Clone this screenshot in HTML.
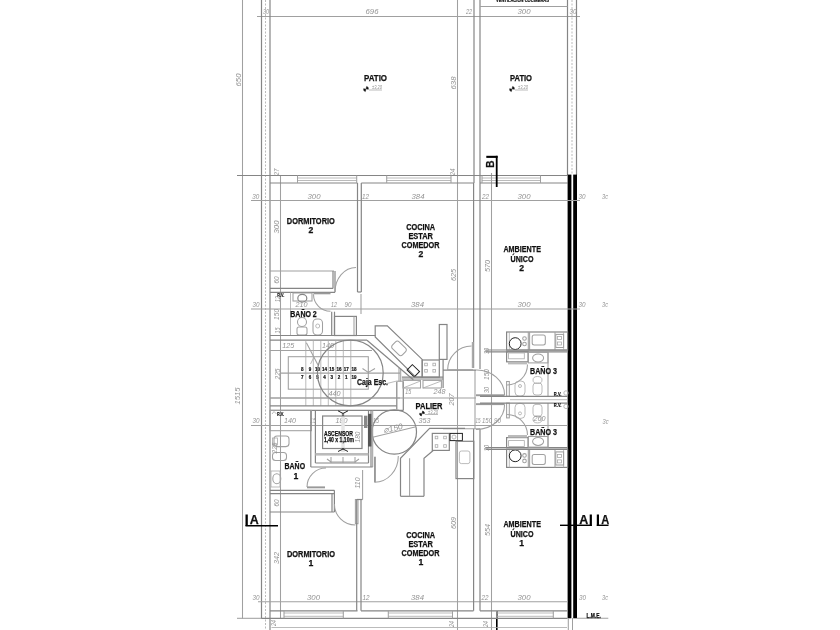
<!DOCTYPE html>
<html><head><meta charset="utf-8">
<style>
html,body{margin:0;padding:0;background:#fff;width:840px;height:630px;overflow:hidden}
svg{display:block;filter:blur(0.35px)}
.l{stroke:#858585;stroke-width:1.2;fill:none}
.lt{stroke:#a0a0a0;stroke-width:1.05;fill:none}
.lf{stroke:#aaa;stroke-width:0.8;fill:none}
.ds{stroke:#bbb;stroke-width:1;fill:none;stroke-dasharray:2 1.5}
.dk{stroke:#222;stroke-width:1;fill:none}
.bk{fill:#000;stroke:none}
.gr{fill:#777;stroke:#444;stroke-width:0.5}
.dt{font-family:"Liberation Sans",sans-serif;font-style:italic;font-size:8px;fill:#939393}
.lb{font-family:"Liberation Sans",sans-serif;font-weight:bold;font-size:8.6px;fill:#111;stroke:#111;stroke-width:0.25}
.sm{font-family:"Liberation Sans",sans-serif;font-weight:bold;font-size:5px;fill:#111;stroke:#111;stroke-width:0.2}
</style></head><body>
<svg width="840" height="630" viewBox="0 0 840 630">
<line class="lt" x1="242.5" y1="0" x2="242.5" y2="618.5"/>
<line class="lt" x1="237" y1="618.3" x2="262" y2="618.3"/>
<line class="lt" x1="257" y1="16.5" x2="580" y2="16.5"/>
<text class="dt" x="266" y="14" text-anchor="middle" textLength="6" lengthAdjust="spacingAndGlyphs">30</text>
<line class="l" x1="261.5" y1="0" x2="261.5" y2="618.3"/>
<line class="ds" x1="265.5" y1="0" x2="265.5" y2="630"/>
<line class="l" x1="270" y1="0" x2="270" y2="630"/>
<line class="lt" x1="280.5" y1="175" x2="280.5" y2="618.3"/>
<line class="lt" x1="457.5" y1="0" x2="457.5" y2="630"/>
<line class="lt" x1="491.5" y1="173" x2="491.5" y2="630"/>
<line class="l" x1="474" y1="0" x2="474" y2="183"/>
<line class="l" x1="480" y1="0" x2="480" y2="183"/>
<line class="l" x1="567.5" y1="0" x2="567.5" y2="175"/>
<line class="ds" x1="572" y1="0" x2="572" y2="175"/>
<line class="l" x1="576.5" y1="0" x2="576.5" y2="175"/>
<line class="lt" x1="480" y1="6.5" x2="567.5" y2="6.5"/>
<text class="sm" x="522.5" y="1.6" text-anchor="middle" textLength="53" lengthAdjust="spacingAndGlyphs">VENTILACION COCINERAS</text>
<line class="l" x1="237" y1="175.5" x2="567.5" y2="175.5"/>
<line class="l" x1="270" y1="183" x2="357.5" y2="183"/>
<line class="l" x1="361.3" y1="183" x2="474" y2="183"/>
<line class="l" x1="480" y1="183" x2="567.5" y2="183"/>
<line class="lf" x1="297.5" y1="178" x2="356.7" y2="178"/>
<line class="lf" x1="297.5" y1="180.5" x2="356.7" y2="180.5"/>
<line class="lt" x1="297.5" y1="175.5" x2="297.5" y2="183"/>
<line class="lt" x1="356.7" y1="175.5" x2="356.7" y2="183"/>
<line class="lf" x1="386.7" y1="178" x2="451" y2="178"/>
<line class="lf" x1="386.7" y1="180.5" x2="451" y2="180.5"/>
<line class="lt" x1="386.7" y1="175.5" x2="386.7" y2="183"/>
<line class="lt" x1="451" y1="175.5" x2="451" y2="183"/>
<line class="lf" x1="482" y1="178" x2="540.5" y2="178"/>
<line class="lf" x1="482" y1="180.5" x2="540.5" y2="180.5"/>
<line class="lt" x1="482" y1="175.5" x2="482" y2="183"/>
<line class="lt" x1="540.5" y1="175.5" x2="540.5" y2="183"/>
<text class="lb" x="375.5" y="81" text-anchor="middle" textLength="23" lengthAdjust="spacingAndGlyphs">PATIO</text>
<text class="lb" x="521" y="81" text-anchor="middle" textLength="22" lengthAdjust="spacingAndGlyphs">PATIO</text>
<text class="dt" x="372" y="14" text-anchor="middle" textLength="13" lengthAdjust="spacingAndGlyphs">696</text>
<text class="dt" x="469" y="14" text-anchor="middle" textLength="6" lengthAdjust="spacingAndGlyphs">22</text>
<text class="dt" x="524" y="14" text-anchor="middle" textLength="13" lengthAdjust="spacingAndGlyphs">300</text>
<text class="dt" x="573" y="14" text-anchor="middle" textLength="7" lengthAdjust="spacingAndGlyphs">30</text>
<text class="dt" x="240.5" y="80" text-anchor="middle" textLength="13" lengthAdjust="spacingAndGlyphs" transform="rotate(-90 240.5 80)">650</text>
<text class="dt" x="456" y="83" text-anchor="middle" textLength="13" lengthAdjust="spacingAndGlyphs" transform="rotate(-90 456 83)">638</text>
<path transform="rotate(15 366 89)" d="M366,88.7 L366,86.4 A2.3,2.3 0 0 1 368.3,88.7 Z M366,89.3 L366,91.6 A2.3,2.3 0 0 1 363.7,89.3 Z" fill="#111" stroke="#111" stroke-width="0.5"/>
<line class="lf" x1="369" y1="90" x2="382" y2="90"/>
<text class="dt" x="377" y="89" text-anchor="middle" textLength="10" lengthAdjust="spacingAndGlyphs" style="font-size:4.5px">±3,20</text>
<path transform="rotate(15 512 89)" d="M512,88.7 L512,86.4 A2.3,2.3 0 0 1 514.3,88.7 Z M512,89.3 L512,91.6 A2.3,2.3 0 0 1 509.7,89.3 Z" fill="#111" stroke="#111" stroke-width="0.5"/>
<line class="lf" x1="515" y1="90" x2="528" y2="90"/>
<text class="dt" x="523" y="89" text-anchor="middle" textLength="10" lengthAdjust="spacingAndGlyphs" style="font-size:4.5px">±3,20</text>
<path transform="rotate(15 422 413.5)" d="M422,413.2 L422,410.9 A2.3,2.3 0 0 1 424.3,413.2 Z M422,413.8 L422,416.1 A2.3,2.3 0 0 1 419.7,413.8 Z" fill="#111" stroke="#111" stroke-width="0.5"/>
<line class="lf" x1="425" y1="414.5" x2="438" y2="414.5"/>
<text class="dt" x="433" y="413.5" text-anchor="middle" textLength="10" lengthAdjust="spacingAndGlyphs" style="font-size:4.5px">±3,20</text>
<rect class="bk" x="567.6" y="174.6" width="3.8" height="443.7"/>
<rect class="bk" x="573.2" y="174.6" width="3.8" height="443.7"/>
<line class="lt" x1="568.3" y1="618" x2="568.3" y2="630"/>
<line class="lt" x1="572.5" y1="618" x2="572.5" y2="630"/>
<rect class="bk" x="486.3" y="155.8" width="11.3" height="2.1"/>
<rect class="bk" x="495.8" y="155.8" width="1.8" height="31.2"/>
<text class="lb" x="494" y="164" text-anchor="middle" transform="rotate(-90 494 164)" style="font-size:10px">B</text>
<rect class="bk" x="496" y="611" width="1.6" height="19"/>
<rect class="bk" x="245.5" y="514.5" width="2.3" height="11.5"/>
<text class="lb" x="254.3" y="523.5" text-anchor="middle" textLength="9" lengthAdjust="spacingAndGlyphs" style="font-size:12px">A</text>
<rect class="bk" x="245.5" y="525" width="32.5" height="1.5"/>
<rect class="bk" x="560" y="524.6" width="31.7" height="1.4"/>
<rect class="bk" x="589.7" y="514.5" width="2.2" height="11.5"/>
<text class="lb" x="583.8" y="523.5" text-anchor="middle" textLength="9" lengthAdjust="spacingAndGlyphs" style="font-size:12px">A</text>
<rect class="bk" x="596.8" y="514.5" width="2.2" height="11.5"/>
<rect class="bk" x="596.8" y="524.6" width="11.7" height="1.4"/>
<text class="lb" x="605.2" y="523.5" text-anchor="middle" textLength="8" lengthAdjust="spacingAndGlyphs" style="font-size:12px">A</text>
<line class="lt" x1="576.7" y1="618.3" x2="608.3" y2="618.3"/>
<text class="lb" x="593.7" y="617.5" text-anchor="middle" textLength="14.5" lengthAdjust="spacingAndGlyphs" style="font-size:6.5px">L.M.E.</text>
<line class="lt" x1="251" y1="200.5" x2="580" y2="200.5"/>
<text class="dt" x="255.7" y="199" text-anchor="middle" textLength="7" lengthAdjust="spacingAndGlyphs">30</text>
<text class="dt" x="314" y="199" text-anchor="middle" textLength="13" lengthAdjust="spacingAndGlyphs">300</text>
<text class="dt" x="365.5" y="199" text-anchor="middle" textLength="7" lengthAdjust="spacingAndGlyphs">12</text>
<text class="dt" x="418" y="199" text-anchor="middle" textLength="13" lengthAdjust="spacingAndGlyphs">384</text>
<text class="dt" x="485.5" y="199" text-anchor="middle" textLength="7" lengthAdjust="spacingAndGlyphs">22</text>
<text class="dt" x="524" y="199" text-anchor="middle" textLength="13" lengthAdjust="spacingAndGlyphs">300</text>
<text class="dt" x="582" y="199" text-anchor="middle" textLength="7" lengthAdjust="spacingAndGlyphs">30</text>
<text class="dt" x="605" y="199" text-anchor="middle" textLength="6" lengthAdjust="spacingAndGlyphs">3c</text>
<text class="dt" x="278.5" y="172" text-anchor="middle" textLength="7" lengthAdjust="spacingAndGlyphs" transform="rotate(-90 278.5 172)">27</text>
<text class="dt" x="455" y="172" text-anchor="middle" textLength="7" lengthAdjust="spacingAndGlyphs" transform="rotate(-90 455 172)">24</text>
<line class="lt" x1="251" y1="309" x2="580" y2="309"/>
<text class="dt" x="256" y="307" text-anchor="middle" textLength="7" lengthAdjust="spacingAndGlyphs">30</text>
<text class="dt" x="301.5" y="307" text-anchor="middle" textLength="12" lengthAdjust="spacingAndGlyphs">210</text>
<text class="dt" x="334" y="307" text-anchor="middle" textLength="6" lengthAdjust="spacingAndGlyphs">12</text>
<text class="dt" x="348" y="307" text-anchor="middle" textLength="7" lengthAdjust="spacingAndGlyphs">90</text>
<text class="dt" x="417.5" y="307" text-anchor="middle" textLength="13" lengthAdjust="spacingAndGlyphs">384</text>
<text class="dt" x="524" y="307" text-anchor="middle" textLength="13" lengthAdjust="spacingAndGlyphs">300</text>
<text class="dt" x="582" y="307" text-anchor="middle" textLength="7" lengthAdjust="spacingAndGlyphs">30</text>
<text class="dt" x="605" y="307" text-anchor="middle" textLength="6" lengthAdjust="spacingAndGlyphs">3c</text>
<line class="lt" x1="258" y1="601.7" x2="568" y2="601.7"/>
<text class="dt" x="256" y="599.5" text-anchor="middle" textLength="7" lengthAdjust="spacingAndGlyphs">30</text>
<text class="dt" x="313.5" y="599.5" text-anchor="middle" textLength="13" lengthAdjust="spacingAndGlyphs">300</text>
<text class="dt" x="366" y="599.5" text-anchor="middle" textLength="7" lengthAdjust="spacingAndGlyphs">12</text>
<text class="dt" x="417.5" y="599.5" text-anchor="middle" textLength="13" lengthAdjust="spacingAndGlyphs">384</text>
<text class="dt" x="485" y="599.5" text-anchor="middle" textLength="7" lengthAdjust="spacingAndGlyphs">22</text>
<text class="dt" x="524" y="599.5" text-anchor="middle" textLength="13" lengthAdjust="spacingAndGlyphs">300</text>
<text class="dt" x="582.5" y="599.5" text-anchor="middle" textLength="7" lengthAdjust="spacingAndGlyphs">30</text>
<text class="dt" x="605" y="599.5" text-anchor="middle" textLength="6" lengthAdjust="spacingAndGlyphs">3c</text>
<line class="l" x1="270" y1="610.8" x2="357.5" y2="610.8"/>
<line class="l" x1="361" y1="610.8" x2="473.5" y2="610.8"/>
<line class="l" x1="480" y1="610.8" x2="567.5" y2="610.8"/>
<line class="l" x1="261.5" y1="618.3" x2="567.5" y2="618.3"/>
<line class="lf" x1="284" y1="613" x2="343.3" y2="613"/>
<line class="lf" x1="284" y1="616.3" x2="343.3" y2="616.3"/>
<line class="lt" x1="284" y1="610.8" x2="284" y2="618.3"/>
<line class="lt" x1="343.3" y1="610.8" x2="343.3" y2="618.3"/>
<line class="lf" x1="388.3" y1="613" x2="452.5" y2="613"/>
<line class="lf" x1="388.3" y1="616.3" x2="452.5" y2="616.3"/>
<line class="lt" x1="388.3" y1="610.8" x2="388.3" y2="618.3"/>
<line class="lt" x1="452.5" y1="610.8" x2="452.5" y2="618.3"/>
<line class="lf" x1="496.7" y1="613" x2="553.3" y2="613"/>
<line class="lf" x1="496.7" y1="616.3" x2="553.3" y2="616.3"/>
<line class="lt" x1="496.7" y1="610.8" x2="496.7" y2="618.3"/>
<line class="lt" x1="553.3" y1="610.8" x2="553.3" y2="618.3"/>
<line class="lf" x1="271.5" y1="627.5" x2="567" y2="627.5"/>
<text class="dt" x="276" y="623" text-anchor="middle" textLength="6" lengthAdjust="spacingAndGlyphs" transform="rotate(-90 276 623)">24</text>
<text class="dt" x="454" y="624" text-anchor="middle" textLength="6" lengthAdjust="spacingAndGlyphs" transform="rotate(-90 454 624)">24</text>
<text class="dt" x="488" y="624" text-anchor="middle" textLength="6" lengthAdjust="spacingAndGlyphs" transform="rotate(-90 488 624)">24</text>
<line class="l" x1="357.5" y1="183" x2="357.5" y2="292"/>
<line class="l" x1="361.3" y1="183" x2="361.3" y2="292"/>
<line class="l" x1="357.5" y1="292" x2="361.3" y2="292"/>
<line class="lt" x1="270" y1="271" x2="334" y2="271"/>
<line class="l" x1="333" y1="271" x2="333" y2="288.4"/>
<line class="l" x1="335" y1="271" x2="335" y2="292.3"/>
<line class="l" x1="270" y1="288.4" x2="333" y2="288.4"/>
<line class="l" x1="270" y1="292.3" x2="335" y2="292.3"/>
<path class="lt" d="M335,292 A21,24.6 0 0 1 356,267.4"/>
<path class="lt" d="M313.5,294.3 A17,17 0 0 0 330.5,311.3"/>
<rect x="313.5" y="292.5" width="17" height="1.8" fill="#999"/>
<rect class="lt" x="293" y="293" width="19" height="8"/>
<ellipse class="l" cx="302.3" cy="298.2" rx="4.5" ry="3.8"/>
<line class="l" x1="331.7" y1="311.7" x2="331.7" y2="335.5"/>
<line class="l" x1="334.5" y1="311.7" x2="334.5" y2="335.5"/>
<rect class="l" x="334.5" y="316.4" width="21.9" height="19.1"/>
<line class="lt" x1="354" y1="316.4" x2="354" y2="335.5"/>
<rect class="lt" x="297" y="327" width="10" height="8" rx="2"/>
<ellipse class="lt" cx="302" cy="322" rx="4.5" ry="4.5"/>
<rect class="lt" x="313" y="319" width="9.5" height="16" rx="4"/>
<circle class="lf" cx="317.7" cy="326" r="2"/>
<line class="lf" x1="290.5" y1="292.3" x2="290.5" y2="335.5"/>
<line class="l" x1="270" y1="335.5" x2="375.5" y2="335.5"/>
<line class="l" x1="270" y1="340.2" x2="367" y2="340.2"/>
<text class="lb" x="303.5" y="317" text-anchor="middle" textLength="26.5" lengthAdjust="spacingAndGlyphs">BAÑO 2</text>
<text class="sm" x="280.7" y="297" text-anchor="middle" textLength="7" lengthAdjust="spacingAndGlyphs">R.V.</text>
<text class="dt" x="279.5" y="299" text-anchor="middle" textLength="6" lengthAdjust="spacingAndGlyphs" transform="rotate(-90 279.5 299)">12</text>
<text class="dt" x="279.5" y="314.4" text-anchor="middle" textLength="11" lengthAdjust="spacingAndGlyphs" transform="rotate(-90 279.5 314.4)">150</text>
<text class="dt" x="279.5" y="330.5" text-anchor="middle" textLength="6" lengthAdjust="spacingAndGlyphs" transform="rotate(-90 279.5 330.5)">15</text>
<text class="dt" x="279" y="227" text-anchor="middle" textLength="13" lengthAdjust="spacingAndGlyphs" transform="rotate(-90 279 227)">300</text>
<text class="dt" x="279" y="280" text-anchor="middle" textLength="7" lengthAdjust="spacingAndGlyphs" transform="rotate(-90 279 280)">60</text>
<line class="lt" x1="270" y1="350.4" x2="372" y2="350.4"/>
<text class="dt" x="288.3" y="348" text-anchor="middle" textLength="12" lengthAdjust="spacingAndGlyphs">125</text>
<text class="dt" x="328" y="348" text-anchor="middle" textLength="12" lengthAdjust="spacingAndGlyphs">140</text>
<rect class="lt" x="288.3" y="356.7" width="80" height="32.5"/>
<line class="lt" x1="280.5" y1="373.1" x2="400" y2="373.1"/>
<line class="lt" x1="270" y1="398" x2="400" y2="398"/>
<line class="lf" x1="305.8" y1="340.2" x2="305.8" y2="405.8"/>
<line class="lf" x1="313.3" y1="340.2" x2="313.3" y2="405.8"/>
<line class="lf" x1="320.8" y1="340.2" x2="320.8" y2="405.8"/>
<line class="lf" x1="328.3" y1="340.2" x2="328.3" y2="405.8"/>
<line class="lf" x1="335.8" y1="340.2" x2="335.8" y2="405.8"/>
<line class="lf" x1="343.3" y1="340.2" x2="343.3" y2="405.8"/>
<line class="lf" x1="350.8" y1="340.2" x2="350.8" y2="405.8"/>
<text class="sm" x="302.3" y="371" text-anchor="middle" style="font-size:4.5px">8</text>
<text class="sm" x="302.3" y="378.8" text-anchor="middle" style="font-size:4.5px">7</text>
<text class="sm" x="310" y="371" text-anchor="middle" style="font-size:4.5px">9</text>
<text class="sm" x="310" y="378.8" text-anchor="middle" style="font-size:4.5px">6</text>
<text class="sm" x="317.4" y="371" text-anchor="middle" style="font-size:4.5px">10</text>
<text class="sm" x="317.4" y="378.8" text-anchor="middle" style="font-size:4.5px">5</text>
<text class="sm" x="324.6" y="371" text-anchor="middle" style="font-size:4.5px">14</text>
<text class="sm" x="324.6" y="378.8" text-anchor="middle" style="font-size:4.5px">4</text>
<text class="sm" x="331.8" y="371" text-anchor="middle" style="font-size:4.5px">15</text>
<text class="sm" x="331.8" y="378.8" text-anchor="middle" style="font-size:4.5px">3</text>
<text class="sm" x="339" y="371" text-anchor="middle" style="font-size:4.5px">16</text>
<text class="sm" x="339" y="378.8" text-anchor="middle" style="font-size:4.5px">2</text>
<text class="sm" x="346.2" y="371" text-anchor="middle" style="font-size:4.5px">17</text>
<text class="sm" x="346.2" y="378.8" text-anchor="middle" style="font-size:4.5px">1</text>
<text class="sm" x="354" y="371" text-anchor="middle" style="font-size:4.5px">18</text>
<text class="sm" x="354" y="378.8" text-anchor="middle" style="font-size:4.5px">19</text>
<circle class="l" cx="350.3" cy="373" r="32.9"/>
<text class="lb" x="372.5" y="385" text-anchor="middle" textLength="31" lengthAdjust="spacingAndGlyphs" style="font-size:8.5px">Caja Esc.</text>
<text class="dt" x="279.5" y="374" text-anchor="middle" textLength="11" lengthAdjust="spacingAndGlyphs" transform="rotate(-90 279.5 374)">225</text>
<text class="dt" x="334.4" y="396" text-anchor="middle" textLength="12" lengthAdjust="spacingAndGlyphs">440</text>
<line class="lt" x1="306.4" y1="342.8" x2="318" y2="365"/>
<line class="lf" x1="314" y1="357" x2="310.5" y2="364"/>
<polyline class="lt" points="362.5,368.5 368.3,372.5 375,368.5"/>
<line class="l" x1="270" y1="405.8" x2="396.8" y2="405.8"/>
<line class="l" x1="270" y1="410.4" x2="403.3" y2="410.4"/>
<line class="l" x1="396.8" y1="381.5" x2="396.8" y2="409.5"/>
<line class="l" x1="403.3" y1="381.5" x2="403.3" y2="410.6"/>
<line class="lt" x1="399" y1="368" x2="399" y2="381.5"/>
<line class="lt" x1="400.7" y1="368.7" x2="400.7" y2="381.5"/>
<line class="lt" x1="396.8" y1="381.2" x2="403.3" y2="381.2"/>
<line class="lt" x1="251" y1="425.5" x2="567.5" y2="425.5"/>
<text class="dt" x="605.5" y="423.5" text-anchor="middle" textLength="6" lengthAdjust="spacingAndGlyphs">3c</text>
<text class="dt" x="256" y="423" text-anchor="middle" textLength="7" lengthAdjust="spacingAndGlyphs">30</text>
<text class="dt" x="290" y="423" text-anchor="middle" textLength="12" lengthAdjust="spacingAndGlyphs">140</text>
<text class="dt" x="313" y="423" text-anchor="middle" textLength="6" lengthAdjust="spacingAndGlyphs">15</text>
<text class="dt" x="341.6" y="423" text-anchor="middle" textLength="12" lengthAdjust="spacingAndGlyphs">180</text>
<text class="dt" x="376" y="423" text-anchor="middle" textLength="6" lengthAdjust="spacingAndGlyphs">15</text>
<text class="dt" x="424.4" y="423" text-anchor="middle" textLength="12" lengthAdjust="spacingAndGlyphs">353</text>
<rect class="lt" x="270" y="410.4" width="41.4" height="20.3"/>
<text class="sm" x="280.5" y="415.5" text-anchor="middle" textLength="7" lengthAdjust="spacingAndGlyphs">R.V.</text>
<polyline class="lf" points="272,414 274,411.5 276.5,414"/>
<line class="l" x1="310.8" y1="410.4" x2="310.8" y2="467"/>
<line class="l" x1="315.4" y1="410.4" x2="315.4" y2="463"/>
<line class="l" x1="310.8" y1="467" x2="371" y2="467"/>
<line class="l" x1="315.4" y1="463" x2="368.5" y2="463"/>
<line class="l" x1="368.5" y1="410.4" x2="368.5" y2="463"/>
<line class="l" x1="371" y1="410.4" x2="371" y2="467"/>
<rect x="341.3" y="412" width="3.4" height="40" fill="#e6e6e6"/>
<rect class="l" x="322.6" y="416" width="39.4" height="32.5"/>
<rect x="315.4" y="453" width="53" height="2.6" fill="#bbb"/>
<polyline class="lt" points="327,459 331,462 355,462 359,459"/>
<line class="lt" x1="331" y1="457" x2="331" y2="463"/>
<line class="lt" x1="343" y1="457" x2="343" y2="463"/>
<line class="lt" x1="355" y1="457" x2="355" y2="463"/>
<polyline class="dk" points="338,410.8 343,413.5 348,410.8"/>
<line class="dk" x1="343" y1="413.5" x2="343" y2="416"/>
<polyline class="dk" points="338,451.5 343,449 348,451.5"/>
<line class="dk" x1="343" y1="448" x2="343" y2="449"/>
<rect x="364" y="415.7" width="3.4" height="12.3" fill="#888"/>
<rect x="368" y="413.8" width="3.4" height="32.7" fill="#555"/>
<text class="lb" x="338.5" y="435.5" text-anchor="middle" textLength="29" lengthAdjust="spacingAndGlyphs" style="font-size:6.5px">ASCENSOR</text>
<text class="lb" x="339" y="442" text-anchor="middle" textLength="30" lengthAdjust="spacingAndGlyphs" style="font-size:6.5px">1,40 x 1,10m</text>
<text class="dt" x="360" y="437" text-anchor="middle" textLength="11" lengthAdjust="spacingAndGlyphs" transform="rotate(-90 360 437)">180</text>
<rect class="lt" x="274" y="436" width="15" height="10.6" rx="3"/>
<rect class="lf" x="272.5" y="438" width="5" height="7"/>
<rect class="lt" x="272.5" y="452.5" width="14" height="8" rx="3"/>
<ellipse class="lt" cx="276.8" cy="478.7" rx="4" ry="5"/>
<rect class="lf" x="271" y="471" width="9" height="16"/>
<text class="lb" x="294.8" y="469" text-anchor="middle" textLength="20.5" lengthAdjust="spacingAndGlyphs">BAÑO</text>
<text class="lb" x="296" y="478.5" text-anchor="middle">1</text>
<path class="lt" d="M307,487 A19,19 0 0 1 326,468"/>
<rect x="307" y="486.4" width="18" height="1.9" fill="#999"/>
<line class="l" x1="270" y1="490.3" x2="334.4" y2="490.3"/>
<line class="l" x1="270" y1="493.6" x2="334.4" y2="493.6"/>
<text class="dt" x="277" y="448" text-anchor="middle" textLength="11" lengthAdjust="spacingAndGlyphs" transform="rotate(-90 277 448)">225</text>
<line class="l" x1="270" y1="512" x2="334.4" y2="512"/>
<line class="l" x1="332" y1="493.6" x2="332" y2="512"/>
<line class="l" x1="334.4" y1="490.3" x2="334.4" y2="512"/>
<text class="dt" x="279" y="503" text-anchor="middle" textLength="7" lengthAdjust="spacingAndGlyphs" transform="rotate(-90 279 503)">60</text>
<path class="lt" d="M334.4,504 A21,21 0 0 0 355.4,525"/>
<rect class="lt" x="355.4" y="499.5" width="2.6" height="24.2"/>
<line class="l" x1="356.7" y1="499.5" x2="356.7" y2="610.8"/>
<line class="l" x1="361" y1="499.5" x2="361" y2="610.8"/>
<line class="l" x1="356.7" y1="499.5" x2="362.6" y2="499.5"/>
<line class="lt" x1="362.6" y1="470" x2="362.6" y2="499.5"/>
<text class="dt" x="359.5" y="483" text-anchor="middle" textLength="11" lengthAdjust="spacingAndGlyphs" transform="rotate(-90 359.5 483)">110</text>
<text class="dt" x="279" y="558" text-anchor="middle" textLength="12" lengthAdjust="spacingAndGlyphs" transform="rotate(-90 279 558)">342</text>
<text class="lb" x="310.8" y="223.5" text-anchor="middle" textLength="48" lengthAdjust="spacingAndGlyphs">DORMITORIO</text>
<text class="lb" x="310.8" y="232.5" text-anchor="middle">2</text>
<text class="lb" x="420.7" y="230.4" text-anchor="middle" textLength="29" lengthAdjust="spacingAndGlyphs">COCINA</text>
<text class="lb" x="420.7" y="239.1" text-anchor="middle" textLength="24.6" lengthAdjust="spacingAndGlyphs">ESTAR</text>
<text class="lb" x="420.5" y="248" text-anchor="middle" textLength="38" lengthAdjust="spacingAndGlyphs">COMEDOR</text>
<text class="lb" x="421" y="256.6" text-anchor="middle">2</text>
<text class="lb" x="522.2" y="251.5" text-anchor="middle" textLength="37.5" lengthAdjust="spacingAndGlyphs">AMBIENTE</text>
<text class="lb" x="522" y="262.3" text-anchor="middle" textLength="23" lengthAdjust="spacingAndGlyphs">ÚNICO</text>
<text class="lb" x="521.6" y="271" text-anchor="middle">2</text>
<text class="lb" x="311" y="557" text-anchor="middle" textLength="48" lengthAdjust="spacingAndGlyphs">DORMITORIO</text>
<text class="lb" x="311" y="566" text-anchor="middle">1</text>
<text class="lb" x="420.7" y="538.3" text-anchor="middle" textLength="29" lengthAdjust="spacingAndGlyphs">COCINA</text>
<text class="lb" x="420.7" y="547" text-anchor="middle" textLength="24.6" lengthAdjust="spacingAndGlyphs">ESTAR</text>
<text class="lb" x="420.5" y="555.8" text-anchor="middle" textLength="38" lengthAdjust="spacingAndGlyphs">COMEDOR</text>
<text class="lb" x="421" y="564.5" text-anchor="middle">1</text>
<text class="lb" x="522.2" y="527" text-anchor="middle" textLength="37.5" lengthAdjust="spacingAndGlyphs">AMBIENTE</text>
<text class="lb" x="522" y="537" text-anchor="middle" textLength="23" lengthAdjust="spacingAndGlyphs">ÚNICO</text>
<text class="lb" x="521.6" y="545.8" text-anchor="middle">1</text>
<text class="dt" x="456" y="275" text-anchor="middle" textLength="12" lengthAdjust="spacingAndGlyphs" transform="rotate(-90 456 275)">625</text>
<text class="dt" x="490" y="266" text-anchor="middle" textLength="12" lengthAdjust="spacingAndGlyphs" transform="rotate(-90 490 266)">570</text>
<text class="dt" x="455.5" y="523" text-anchor="middle" textLength="12" lengthAdjust="spacingAndGlyphs" transform="rotate(-90 455.5 523)">609</text>
<text class="dt" x="490" y="530" text-anchor="middle" textLength="12" lengthAdjust="spacingAndGlyphs" transform="rotate(-90 490 530)">554</text>
<line class="l" x1="473.6" y1="183" x2="473.6" y2="368"/>
<line class="l" x1="480" y1="183" x2="480" y2="369"/>
<line class="lt" x1="475" y1="370.2" x2="475" y2="428.7"/>
<line class="l" x1="473.6" y1="428.7" x2="473.6" y2="610.8"/>
<line class="l" x1="480" y1="428.7" x2="480" y2="610.8"/>
<line class="l" x1="443" y1="370.2" x2="476" y2="370.2"/>
<line class="lt" x1="443" y1="428.7" x2="480" y2="428.7"/>
<polygon class="l" points="375.2,325.8 387.3,325.8 422.2,359.4 422.2,377.2 415.8,377.2 375.2,337"/>
<line class="l" x1="367" y1="340.2" x2="413.3" y2="379.7"/>
<rect class="lt" x="-7" y="-4.8" width="14" height="9.6" rx="2.5" transform="translate(399 348.4) rotate(44)"/>
<rect class="dk" x="-5" y="-3.8" width="10" height="7.6" transform="translate(413.3 370.8) rotate(44)"/>
<rect class="l" x="422.2" y="360" width="17.1" height="17.2"/>
<rect class="lf" x="424.7" y="363.2" width="2.6" height="2.6"/>
<rect class="lf" x="432.9" y="363.2" width="2.6" height="2.6"/>
<rect class="lf" x="424.7" y="369.5" width="2.6" height="2.6"/>
<rect class="lf" x="432.9" y="369.5" width="2.6" height="2.6"/>
<rect class="l" x="439.3" y="324.5" width="7.7" height="34.9"/>
<line class="l" x1="401.9" y1="377.2" x2="443.1" y2="377.2"/>
<line class="l" x1="401.9" y1="379" x2="443.1" y2="379"/>
<rect class="lt" x="403" y="380.4" width="17.5" height="7.6"/>
<rect class="lt" x="423" y="380.4" width="18.4" height="7.6"/>
<line class="lf" x1="403" y1="388" x2="420.5" y2="381"/>
<line class="lf" x1="423" y1="388" x2="441.4" y2="381"/>
<line class="l" x1="443.1" y1="359.4" x2="443.1" y2="388"/>
<path class="lt" d="M447.6,370 A24,24 0 0 1 471.6,346"/>
<rect x="471.8" y="342" width="1.9" height="26" fill="#aaa"/>
<line class="lt" x1="447.6" y1="369.8" x2="473" y2="369.8"/>
<line class="lf" x1="387" y1="383.5" x2="396.8" y2="381"/>
<text class="dt" x="408.2" y="394" text-anchor="middle" textLength="6" lengthAdjust="spacingAndGlyphs">15</text>
<text class="dt" x="439.5" y="394" text-anchor="middle" textLength="12" lengthAdjust="spacingAndGlyphs">248</text>
<line class="lt" x1="270" y1="398" x2="476" y2="398"/>
<text class="dt" x="454" y="399.5" text-anchor="middle" textLength="12" lengthAdjust="spacingAndGlyphs" transform="rotate(-90 454 399.5)">207</text>
<text class="lb" x="429" y="409" text-anchor="middle" textLength="27" lengthAdjust="spacingAndGlyphs">PALIER</text>
<circle class="l" cx="394.3" cy="432" r="22.2"/>
<line class="lt" x1="372.7" y1="437.3" x2="416" y2="426.8"/>
<text class="dt" x="393.6" y="431" text-anchor="middle" textLength="20" lengthAdjust="spacingAndGlyphs" transform="rotate(-14 393.6 431)">⌀150</text>
<polyline class="l" points="400.5,496.3 400.5,458.3 429.6,428.4 465,428.4"/>
<polyline class="l" points="424,496.3 424,458.3 433.2,450.5"/>
<line class="l" x1="400.5" y1="496.3" x2="424" y2="496.3"/>
<line class="lt" x1="409.6" y1="458.3" x2="409.6" y2="496.3"/>
<rect class="l" x="432.3" y="433.4" width="17" height="17"/>
<rect class="lf" x="435.2" y="436.2" width="2.6" height="2.6"/>
<rect class="lf" x="443.7" y="436.2" width="2.6" height="2.6"/>
<rect class="lf" x="435.2" y="444.7" width="2.6" height="2.6"/>
<rect class="lf" x="443.7" y="444.7" width="2.6" height="2.6"/>
<rect class="dk" x="450" y="433.4" width="12.4" height="7.2"/>
<circle class="lf" cx="454" cy="437" r="2"/>
<rect class="l" x="456" y="441.3" width="17.8" height="37.3"/>
<rect class="lf" x="459.4" y="451" width="10.5" height="12.6" rx="2"/>
<rect x="374" y="456.7" width="1.9" height="25.6" fill="#999"/>
<path class="lt" d="M374.5,482.3 A24,26 0 0 0 398.3,456"/>
<line class="lt" x1="372.7" y1="410.4" x2="372.7" y2="467"/>
<line class="l" x1="371" y1="467" x2="372.7" y2="467"/>
<g><rect class="l" x="506.6" y="332" width="61" height="18.1"/>
<line class="lf" x1="509.3" y1="332" x2="509.3" y2="350"/>
<line class="lt" x1="528.3" y1="332" x2="528.3" y2="350"/>
<line class="lt" x1="529.6" y1="332" x2="529.6" y2="350"/>
<line class="lt" x1="555" y1="332" x2="555" y2="350"/>
<line class="lf" x1="563.6" y1="332" x2="563.6" y2="350"/>
<circle class="dk" cx="515.2" cy="343.6" r="5.9"/>
<circle class="lt" cx="524.5" cy="338.5" r="1.8"/>
<circle class="lt" cx="524.5" cy="344" r="1.8"/>
<rect class="lt" x="532.2" y="335" width="13.1" height="10" rx="2"/>
<rect class="lt" x="555.8" y="334.4" width="7.8" height="13.1"/>
<rect class="lf" x="557.5" y="336.5" width="4" height="3"/>
<rect class="lf" x="557.5" y="342" width="4" height="3"/>
<line class="l" x1="485.5" y1="350" x2="567.6" y2="350"/>
<line class="l" x1="485.5" y1="351.8" x2="567.6" y2="351.8"/>
<rect class="l" x="506.6" y="351.8" width="21.5" height="10"/>
<rect class="lf" x="508.6" y="353" width="15.7" height="5.8"/>
<rect x="508" y="361.8" width="19" height="2.6" fill="#bbb"/>
<rect class="lt" x="528.3" y="352.3" width="19.7" height="10.6"/>
<ellipse class="lt" cx="538.1" cy="358" rx="5.5" ry="4"/>
<line class="lt" x1="548" y1="351.8" x2="548" y2="396.3"/>
<path class="lt" d="M527.5,364.4 A20.5,20.5 0 0 1 507.1,384.9"/>
<rect class="lt" x="506.6" y="381.5" width="2.7" height="14.8"/>
<rect class="lf" x="533" y="383" width="9" height="12" rx="3"/>
<ellipse class="lf" cx="537.5" cy="380" rx="4.5" ry="3.5"/>
<rect class="lf" x="515" y="381" width="10" height="15" rx="4"/>
<circle class="lf" cx="520" cy="386" r="1.5"/>
<circle class="lf" cx="566" cy="393" r="2.2"/>
<path class="lt" d="M476,370 A28,25 0 0 1 504.6,395"/>
<rect x="476" y="394.3" width="28.6" height="1.9" fill="#999"/>
<line class="l" x1="480" y1="396.3" x2="567.6" y2="396.3"/></g>
<g transform="translate(0 799.4) scale(1 -1)"><rect class="l" x="506.6" y="332" width="61" height="18.1"/>
<line class="lf" x1="509.3" y1="332" x2="509.3" y2="350"/>
<line class="lt" x1="528.3" y1="332" x2="528.3" y2="350"/>
<line class="lt" x1="529.6" y1="332" x2="529.6" y2="350"/>
<line class="lt" x1="555" y1="332" x2="555" y2="350"/>
<line class="lf" x1="563.6" y1="332" x2="563.6" y2="350"/>
<circle class="dk" cx="515.2" cy="343.6" r="5.9"/>
<circle class="lt" cx="524.5" cy="338.5" r="1.8"/>
<circle class="lt" cx="524.5" cy="344" r="1.8"/>
<rect class="lt" x="532.2" y="335" width="13.1" height="10" rx="2"/>
<rect class="lt" x="555.8" y="334.4" width="7.8" height="13.1"/>
<rect class="lf" x="557.5" y="336.5" width="4" height="3"/>
<rect class="lf" x="557.5" y="342" width="4" height="3"/>
<line class="l" x1="485.5" y1="350" x2="567.6" y2="350"/>
<line class="l" x1="485.5" y1="351.8" x2="567.6" y2="351.8"/>
<rect class="l" x="506.6" y="351.8" width="21.5" height="10"/>
<rect class="lf" x="508.6" y="353" width="15.7" height="5.8"/>
<rect x="508" y="361.8" width="19" height="2.6" fill="#bbb"/>
<rect class="lt" x="528.3" y="352.3" width="19.7" height="10.6"/>
<ellipse class="lt" cx="538.1" cy="358" rx="5.5" ry="4"/>
<line class="lt" x1="548" y1="351.8" x2="548" y2="396.3"/>
<path class="lt" d="M527.5,364.4 A20.5,20.5 0 0 1 507.1,384.9"/>
<rect class="lt" x="506.6" y="381.5" width="2.7" height="14.8"/>
<rect class="lf" x="533" y="383" width="9" height="12" rx="3"/>
<ellipse class="lf" cx="537.5" cy="380" rx="4.5" ry="3.5"/>
<rect class="lf" x="515" y="381" width="10" height="15" rx="4"/>
<circle class="lf" cx="520" cy="386" r="1.5"/>
<circle class="lf" cx="566" cy="393" r="2.2"/>
<path class="lt" d="M476,370 A28,25 0 0 1 504.6,395"/>
<rect x="476" y="394.3" width="28.6" height="1.9" fill="#999"/>
<line class="l" x1="480" y1="396.3" x2="567.6" y2="396.3"/></g>
<line class="lf" x1="510" y1="399.7" x2="567.6" y2="399.7"/>
<text class="lb" x="543.5" y="373.5" text-anchor="middle" textLength="27" lengthAdjust="spacingAndGlyphs">BAÑO 3</text>
<text class="lb" x="543.5" y="434.5" text-anchor="middle" textLength="27" lengthAdjust="spacingAndGlyphs">BAÑO 3</text>
<text class="sm" x="557.6" y="395.5" text-anchor="middle" textLength="7.5" lengthAdjust="spacingAndGlyphs">R.V.</text>
<text class="sm" x="557.6" y="407.2" text-anchor="middle" textLength="7.5" lengthAdjust="spacingAndGlyphs">R.V.</text>
<text class="dt" x="539.4" y="421" text-anchor="middle" textLength="12" lengthAdjust="spacingAndGlyphs">260</text>
<text class="dt" x="478" y="423" text-anchor="middle" textLength="5" lengthAdjust="spacingAndGlyphs">15</text>
<text class="dt" x="487" y="423" text-anchor="middle" textLength="10" lengthAdjust="spacingAndGlyphs">150</text>
<text class="dt" x="497.5" y="423" text-anchor="middle" textLength="7" lengthAdjust="spacingAndGlyphs">90</text>
<text class="dt" x="489" y="351" text-anchor="middle" textLength="6" lengthAdjust="spacingAndGlyphs" transform="rotate(-90 489 351)">30</text>
<text class="dt" x="489" y="374.5" text-anchor="middle" textLength="11" lengthAdjust="spacingAndGlyphs" transform="rotate(-90 489 374.5)">150</text>
<text class="dt" x="489" y="390" text-anchor="middle" textLength="6" lengthAdjust="spacingAndGlyphs" transform="rotate(-90 489 390)">30</text>
<text class="dt" x="489" y="448" text-anchor="middle" textLength="6" lengthAdjust="spacingAndGlyphs" transform="rotate(-90 489 448)">30</text>
<text class="dt" x="240" y="396" text-anchor="middle" textLength="17" lengthAdjust="spacingAndGlyphs" transform="rotate(-90 240 396)">1515</text>
<line class="lt" x1="361" y1="294" x2="361" y2="314"/>
</svg>
</body></html>
